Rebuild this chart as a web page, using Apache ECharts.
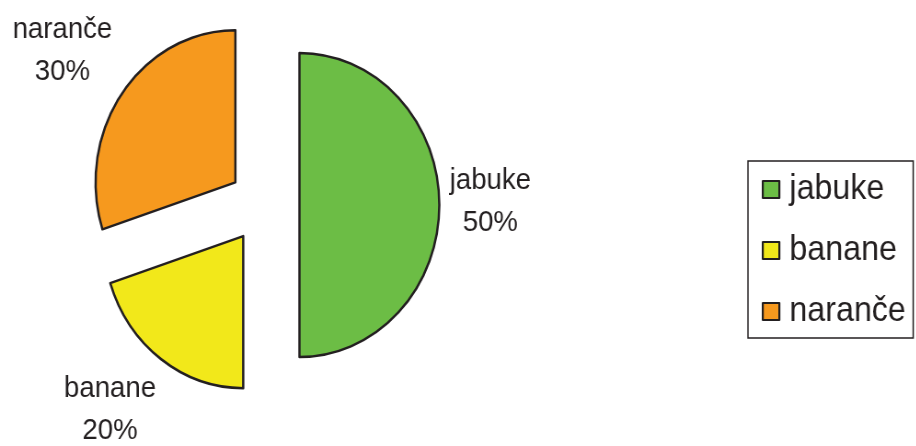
<!DOCTYPE html>
<html>
<head>
<meta charset="utf-8">
<script src="https://cdn.jsdelivr.net/npm/echarts@6/dist/echarts.min.js"></script>
<style>
  html, body { margin: 0; padding: 0; background: #fff; overflow: hidden; }
  #wrap { width: 916px; height: 446px; overflow: hidden; position: relative; }
  #chart { width: 996px; height: 446px; transform: scaleX(0.92); transform-origin: 0 0; }
</style>
</head>
<body>
<div id="wrap"><div id="chart"></div></div>
<script>
// Data
const categories = ['jabuke', 'banane', 'naranče'];
const values = [50, 20, 30];
const colors = ['#6cbd45', '#f2e81a', '#f6991e'];

// Label fine offsets (dx, dy) per category
const labelShift = [[-15, -3], [-14, -6], [-8, -1]];

const FONT = 'Liberation Sans, Arial, Helvetica, sans-serif';
const INK = '#231f20';

const chart = echarts.init(document.getElementById('chart'), null, { renderer: 'canvas' });

const pieData = categories.map((c, i) => ({
  name: c,
  value: values[i],
  selected: true,
  itemStyle: { color: colors[i] }
}));
const labelData = categories.map((c, i) => ({ name: c, value: values[i] }));

chart.setOption({
  animation: false,
  backgroundColor: '#ffffff',
  legend: {
    orient: 'vertical',
    left: 813,
    top: 161,
    padding: [11, 8, 9, 15],
    itemGap: 26,
    itemWidth: 18,
    itemHeight: 17,
    icon: 'rect',
    borderColor: INK,
    borderWidth: 1.5,
    selectedMode: false,
    data: categories,
    itemStyle: { borderColor: INK, borderWidth: 2.2 },
    textStyle: { fontSize: 35, color: INK, fontFamily: FONT, padding: [0, 0, 0, 6] }
  },
  series: [
    {
      type: 'pie',
      center: [287, 205],
      radius: 152,
      startAngle: 90,
      clockwise: true,
      selectedMode: 'multiple',
      selectedOffset: 38.5,
      avoidLabelOverlap: false,
      emphasis: { disabled: true },
      itemStyle: { borderColor: INK, borderWidth: 2.5 },
      select: { itemStyle: { borderColor: INK, borderWidth: 2.5 } },
      label: { show: false },
      labelLine: { show: false },
      data: pieData
    },
    {
      type: 'pie',
      center: [287, 205],
      radius: [230, 286],
      startAngle: 90,
      clockwise: true,
      silent: true,
      avoidLabelOverlap: false,
      emphasis: { disabled: true },
      itemStyle: { color: 'rgba(0,0,0,0)', borderWidth: 0 },
      label: {
        show: true,
        position: 'inside',
        rotate: 0,
        formatter: '{b}\n{d}%',
        fontSize: 30,
        lineHeight: 42,
        color: INK,
        fontFamily: FONT,
        align: 'center'
      },
      labelLine: { show: false },
      labelLayout: function (p) {
        const s = labelShift[p.dataIndex];
        return { dx: s[0], dy: s[1], align: 'center', verticalAlign: 'middle' };
      },
      data: labelData
    }
  ]
});
</script>
</body>
</html>
